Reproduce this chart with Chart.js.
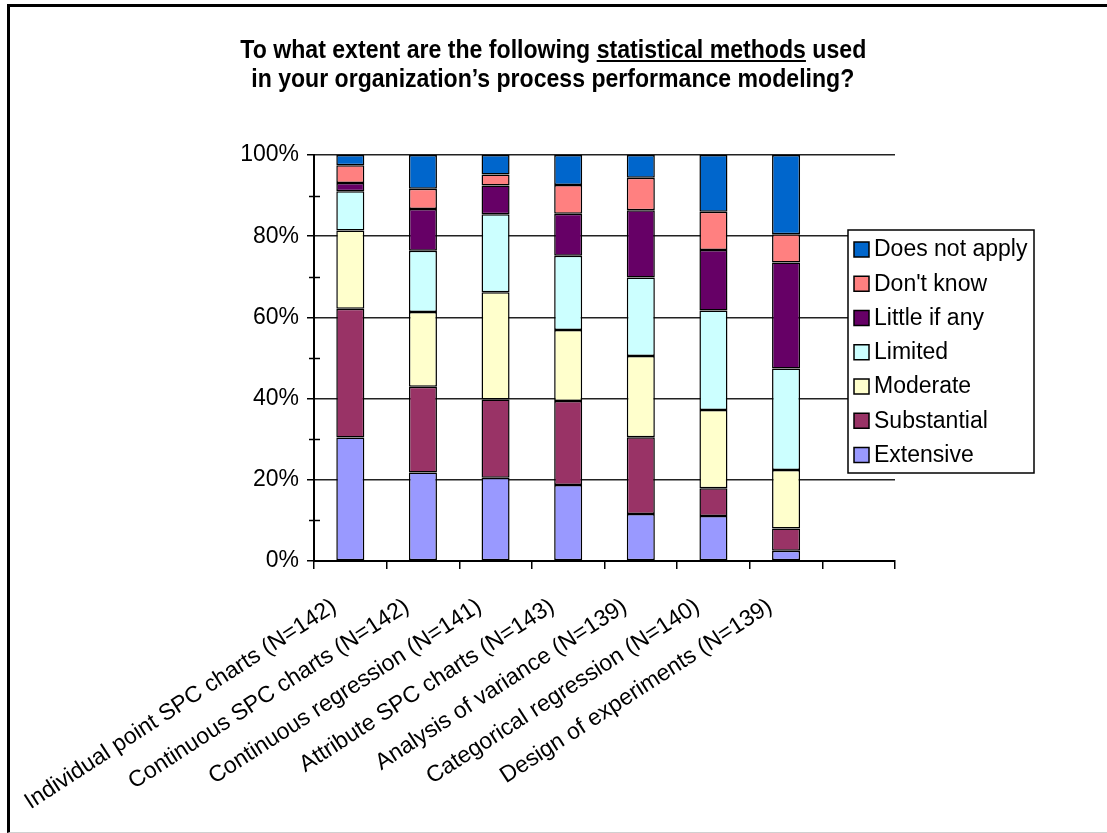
<!DOCTYPE html>
<html>
<head>
<meta charset="utf-8">
<script src="https://cdn.jsdelivr.net/npm/chart.js@4/dist/chart.umd.min.js"></script>
<style>
  html, body { margin: 0; padding: 0; background: #fff; }
  #wrap { position: relative; width: 1107px; height: 833px; overflow: hidden; }
  #frame { position: absolute; left: 7px; top: 4px; width: 1120px; height: 825px;
           border-left: 3px solid #000; border-top: 3px solid #000; border-bottom: 1px solid #d0d0d0; }
  #title { position: absolute; left: 0; top: 35px; width: 1106px; text-align: center;
           font-family: "Liberation Sans", Arial, sans-serif; font-weight: bold; font-size: 26px; line-height: 29px; color: #000; }
  #title .tl { display: inline-block; white-space: nowrap; transform-origin: 50% 50%; }
  #c { position: absolute; left: 0; top: 0; }
</style>
</head>
<body>
<div id="wrap">
  <div id="frame"></div>
  <canvas id="c" width="1107" height="833"></canvas>
  <div id="title">
    <span class="tl" data-w="626">To what extent are the following <u>statistical methods</u> used</span><br>
    <span class="tl" data-w="603">in your organization’s process performance modeling?</span>
  </div>
</div>
<script>
// categories (last slot is empty in the original)
const categories = [
  'Individual point SPC charts (N=142)',
  'Continuous SPC charts (N=142)',
  'Continuous regression (N=141)',
  'Attribute SPC charts (N=143)',
  'Analysis of variance (N=139)',
  'Categorical regression (N=140)',
  'Design of experiments (N=139)',
  ''
];

// percent of responses
const extensive    = [30.4, 21.8, 20.5, 18.7, 11.6, 11.1,  2.5];
const substantial  = [31.7, 21.1, 19.3, 20.7, 18.9,  6.8,  5.5];
const moderate     = [19.3, 18.4, 26.4, 17.5, 20.0, 19.3, 14.4];
const limited      = [ 9.7, 15.1, 19.2, 18.3, 19.3, 24.5, 25.0];
const littleIfAny  = [ 2.0, 10.3,  7.1, 10.3, 16.6, 14.9, 26.1];
const dontKnow     = [ 4.4,  5.0,  2.7,  7.1,  8.0,  9.4,  7.0];
const doesNotApply = [ 2.5,  8.3,  4.8,  7.4,  5.6, 14.0, 19.5];

const yTicks = [0, 20, 40, 60, 80, 100];
const minorTicks = [10, 30, 50, 70, 90];

// fit title lines to the narrow bold face of the original
document.querySelectorAll('#title .tl').forEach(el => {
  const w = el.getBoundingClientRect().width;
  el.style.transform = `scaleX(${el.dataset.w / w})`;
});

const FONT = '"Liberation Sans", Arial, sans-serif';

const series = [
  { label: 'Extensive',      data: extensive,    color: '#9999ff' },
  { label: 'Substantial',    data: substantial,  color: '#993366' },
  { label: 'Moderate',       data: moderate,     color: '#ffffcc' },
  { label: 'Limited',        data: limited,      color: '#ccffff' },
  { label: 'Little if any',  data: littleIfAny,  color: '#660066' },
  { label: "Don't know",     data: dontKnow,     color: '#ff8080' },
  { label: 'Does not apply', data: doesNotApply, color: '#0066cc' }
];

const minorTickPlugin = {
  id: 'minorTicks',
  afterDraw(chart) {
    const y = chart.scales.y, ctx = chart.ctx, x0 = chart.chartArea.left;
    ctx.save();
    ctx.strokeStyle = '#000';
    ctx.lineWidth = 1.5;
    minorTicks.forEach(v => {
      const py = Math.round(y.getPixelForValue(v)) + 0.5;
      ctx.beginPath();
      ctx.moveTo(x0 - 5, py);
      ctx.lineTo(x0 + 6, py);
      ctx.stroke();
    });
    ctx.restore();
  }
};

const boxLegendPlugin = {
  id: 'boxLegend',
  afterDraw(chart) {
    const ctx = chart.ctx;
    const bx = 848, by = 230, bw = 186, bh = 243;
    ctx.save();
    ctx.fillStyle = '#fff';
    ctx.fillRect(bx, by, bw, bh);
    ctx.strokeStyle = '#000';
    ctx.lineWidth = 1.5;
    ctx.strokeRect(bx, by, bw, bh);
    ctx.font = '23px ' + FONT;
    ctx.textBaseline = 'middle';
    const items = chart.data.datasets.slice().reverse();
    items.forEach((ds, i) => {
      const cy = 249 + i * 34.25;
      ctx.fillStyle = ds.backgroundColor;
      ctx.fillRect(854, cy - 7, 15, 15);
      ctx.strokeRect(854, cy - 7, 15, 15);
      ctx.fillStyle = '#000';
      ctx.fillText(ds.label, 874, cy + 1);
    });
    ctx.restore();
  }
};

new Chart(document.getElementById('c'), {
  type: 'bar',
  data: {
    labels: categories,
    datasets: series.map(s => ({
      label: s.label,
      data: s.data,
      backgroundColor: s.color,
      borderColor: '#000',
      borderWidth: 1.5,
      borderSkipped: false,
      barPercentage: 0.386,
      categoryPercentage: 1
    }))
  },
  options: {
    responsive: false,
    animation: false,
    layout: { padding: { left: 20, right: 212, top: 155, bottom: 0 } },
    plugins: { legend: { display: false }, tooltip: { enabled: false }, title: { display: false } },
    scales: {
      x: {
        stacked: true,
        afterFit(scale) { scale.height = 272; scale.paddingLeft = 0; scale.paddingRight = 0; },
        border: { color: '#000', width: 2 },
        grid: { drawOnChartArea: false, offset: true, tickLength: 8, tickColor: '#000', lineWidth: 1.5 },
        ticks: {
          autoSkip: false, minRotation: 33, maxRotation: 33, padding: 24, labelOffset: -16,
          color: '#000', font: { family: FONT, size: 23 }
        }
      },
      y: {
        stacked: true,
        min: 0, max: 100,
        afterFit(scale) { scale.width = 294; scale.paddingTop = 0; scale.paddingBottom = 0; },
        afterBuildTicks(scale) { scale.ticks = yTicks.map(v => ({ value: v })); },
        border: { color: '#000', width: 2 },
        grid: { color: '#222', lineWidth: 1.5, tickLength: 7, tickColor: '#000' },
        ticks: {
          padding: 8, color: '#000', font: { family: FONT, size: 23 },
          callback: v => v + '%'
        }
      }
    }
  },
  plugins: [minorTickPlugin, boxLegendPlugin]
});
</script>
</body>
</html>
